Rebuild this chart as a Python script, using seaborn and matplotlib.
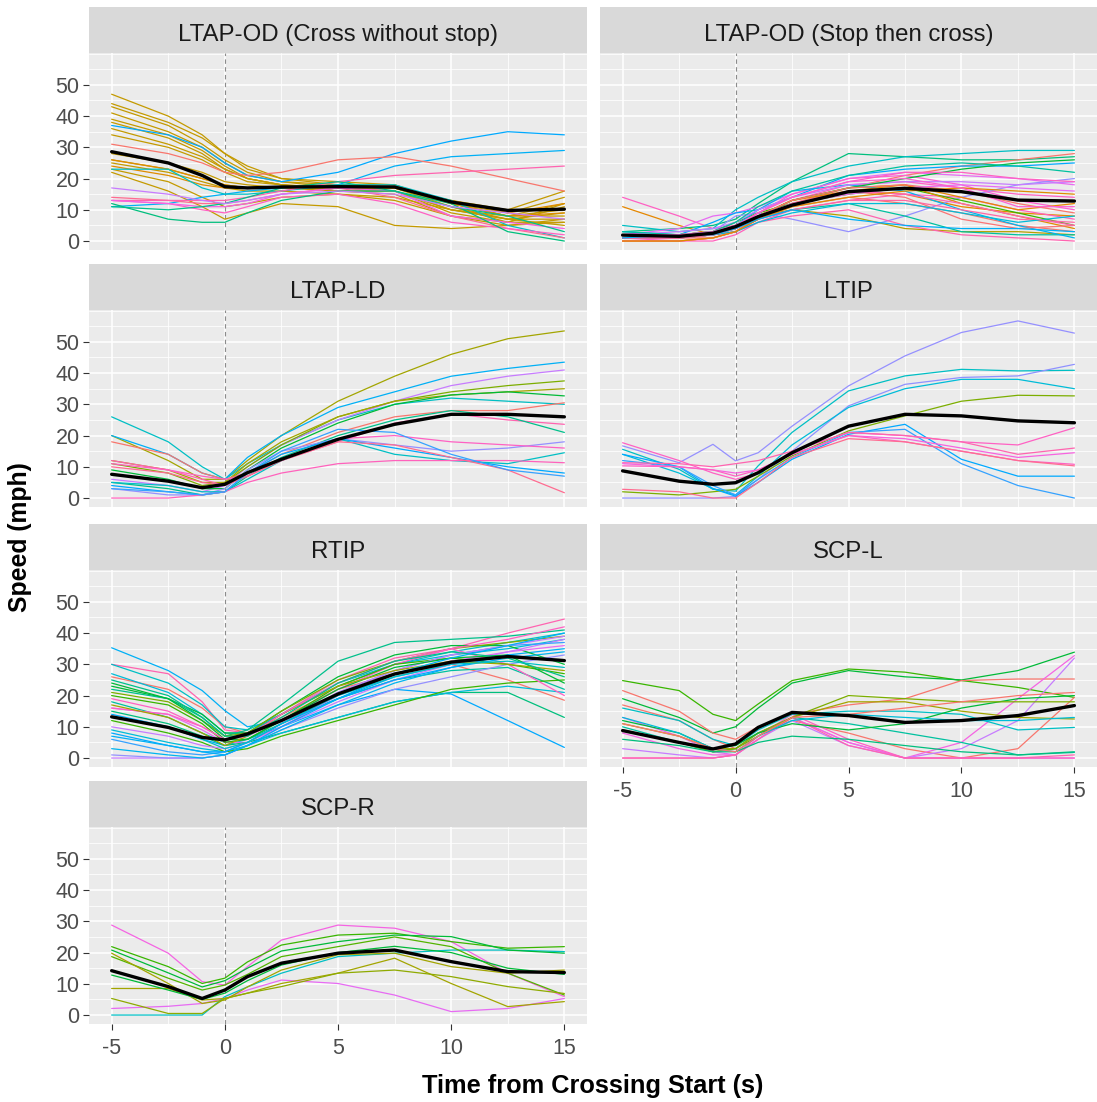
import numpy as np
import pandas as pd
import seaborn as sns
import matplotlib
matplotlib.use("Agg")
import matplotlib.pyplot as plt
from matplotlib.patches import Rectangle
from matplotlib.ticker import MultipleLocator

# ---------------------------------------------------------------------------
# Speed traces (mph) sampled at these times (s) relative to crossing start
# ---------------------------------------------------------------------------
time_pts = [-5, -2.5, -1, 0, 1, 2.5, 5, 7.5, 10, 12.5, 15]

scenarios = [
    "LTAP-OD (Cross without stop)",
    "LTAP-OD (Stop then cross)",
    "LTAP-LD",
    "LTIP",
    "RTIP",
    "SCP-L",
    "SCP-R",
]

# --- LTAP-OD (Cross without stop)
od_cross_speeds = [
    [47, 40, 34, 28, 23, 20, 18, 17, 13, 10, 16],
    [44, 38, 33, 28, 24, 20, 19, 18, 12, 8, 8],
    [43, 37, 31, 26, 22, 19, 18, 17, 12, 8, 10],
    [41, 35, 30, 25, 21, 19, 17, 17, 11, 7, 7],
    [39, 34, 29, 24, 20, 18, 17, 16, 10, 7, 5],
    [38, 33, 28, 23, 20, 18, 16, 16, 11, 6, 6],
    [36, 31, 27, 23, 20, 18, 17, 16, 9, 6, 12],
    [34, 30, 26, 22, 19, 18, 16, 15, 8, 6, 11],
    [28, 25, 22, 19, 18, 17, 17, 17, 12, 9, 14],
    [26, 23, 20, 18, 17, 17, 16, 16, 10, 8, 12],
    [25, 22, 19, 17, 16, 16, 15, 14, 10, 7, 9],
    [23, 19, 14, 11, 12, 14, 15, 13, 8, 5, 6],
    [22, 16, 11, 7, 9, 12, 11, 5, 4, 5, 7],
    [26, 23, 20, 18, 17, 17, 17, 17, 13, 9, 12],
    [24, 21, 18, 17, 17, 17, 18, 18, 12, 8, 9],
    [37, 34, 30, 25, 21, 19, 22, 28, 32, 35, 34],
    [11, 12, 14, 15, 16, 17, 18, 24, 27, 28, 29],
    [23, 23, 17, 15, 15, 16, 18, 18, 13, 5, 1],
    [31, 28, 25, 22, 21, 22, 26, 27, 24, 20, 16],
    [14, 13, 12, 12, 13, 15, 17, 14, 8, 4, 1],
    [13, 13, 13, 13, 14, 16, 19, 21, 22, 23, 24],
    [13, 12, 10, 9, 11, 14, 15, 12, 6, 4, 2],
    [13, 12, 11, 11, 12, 15, 17, 16, 8, 6, 4],
    [12, 7, 6, 6, 9, 13, 16, 16, 12, 3, 0],
    [11, 10, 11, 12, 14, 17, 19, 16, 11, 8, 3],
    [17, 15, 13, 12, 13, 15, 16, 15, 11, 9, 7],
]
od_cross_colors = (
    ["#C49A00"] * 13 + ["#DE8C00"] * 2
    + ["#00A9FF", "#00B0F6", "#00BFC4", "#F8766D", "#FF6C91",
       "#FF64B0", "#FF61C3", "#F564E3", "#00BF7D", "#00C08B", "#C77CFF"]
)
od_cross_mean = [28.6, 25, 21, 17.4, 17, 17.3, 17.4, 17.3, 12.5, 9.8, 10.2]

# --- LTAP-OD (Stop then cross)
od_stop_speeds = [
    [14, 8, 4, 5, 8, 13, 18, 19, 17, 15, 14],
    [11, 5, 2, 3, 7, 12, 16, 15, 11, 9, 8],
    [3, 4, 5, 7, 12, 19, 28, 27, 26, 26, 27],
    [5, 3, 4, 10, 14, 19, 24, 27, 28, 29, 29],
    [2, 4, 8, 9, 11, 15, 20, 22, 21, 20, 18],
    [0, 0, 1, 3, 7, 12, 17, 21, 24, 26, 28],
    [1, 2, 6, 9, 10, 14, 21, 23, 24, 24, 25],
    [2, 2, 3, 8, 9, 7, 3, 8, 14, 18, 20],
    [0, 0, 0, 2, 6, 10, 13, 15, 14, 10, 7],
    [2, 2, 3, 5, 8, 10, 8, 4, 3, 3, 2],
    [1, 1, 2, 4, 7, 10, 12, 8, 3, 2, 2],
    [1, 1, 2, 3, 6, 8, 10, 5, 2, 1, 0],
    [1, 2, 3, 6, 9, 12, 15, 17, 13, 9, 5],
    [2, 2, 3, 4, 8, 13, 17, 18, 12, 8, 4],
    [1, 1, 1, 3, 7, 11, 14, 12, 9, 5, 3],
    [0, 1, 2, 4, 9, 15, 20, 21, 18, 13, 10],
    [3, 2, 2, 5, 10, 16, 18, 16, 10, 5, 1],
    [2, 3, 4, 6, 10, 14, 18, 19, 19, 18, 19],
    [0, 0, 1, 3, 7, 12, 16, 14, 7, 4, 5],
    [1, 1, 2, 4, 8, 13, 17, 20, 23, 25, 26],
    [2, 1, 2, 4, 7, 10, 13, 13, 10, 7, 6],
    [1, 1, 2, 3, 6, 9, 12, 12, 9, 6, 8],
    [1, 1, 2, 4, 8, 13, 16, 18, 14, 10, 12],
    [1, 1, 2, 4, 9, 14, 19, 22, 22, 20, 19],
    [0, 0, 1, 3, 8, 13, 17, 18, 16, 12, 9],
    [2, 2, 3, 5, 8, 12, 15, 17, 18, 17, 16],
    [1, 1, 2, 4, 7, 12, 16, 15, 12, 8, 5],
    [3, 2, 3, 6, 11, 16, 21, 24, 25, 24, 22],
    [0, 0, 1, 3, 7, 11, 14, 16, 17, 16, 15],
    [1, 2, 2, 4, 7, 10, 7, 5, 4, 4, 3],
    [2, 2, 3, 5, 9, 14, 19, 20, 17, 11, 11],
]
od_stop_colors = [
    "#FF61C3", "#E58700", "#00BF7D", "#00BFC4", "#E76BF3", "#F8766D",
    "#00A9FF", "#9590FF", "#FF62BC", "#B79F00", "#00C19F", "#FF64B0",
    "#39B600", "#DE8C00", "#F8766D", "#FD61D1", "#00B4EF", "#C77CFF",
    "#FA7476", "#00BA38", "#FF67A4", "#00BCD8", "#E58700",
    "#FF61C3", "#F8766D", "#E76BF3", "#FF64B0", "#00C19F", "#DE8C00",
    "#00B0F6", "#FD61D1",
]
od_stop_mean = [1.9, 1.5, 2.5, 4.6, 7.8, 11.5, 15.8, 16.9, 15.8, 13.1, 12.8]

# --- LTAP-LD
ld_speeds = [
    [20, 12, 6, 6, 12, 20, 31, 39, 46, 51, 53.5],
    [26, 18, 10, 6, 11, 17, 25, 30, 32, 31, 30],
    [20, 14, 8, 6, 13, 20, 29, 34, 39, 41.5, 43.5],
    [6, 4, 2, 4, 10, 17, 25, 31, 36, 39, 41],
    [11, 8, 4, 5, 10, 17, 26, 31, 34, 36, 37.5],
    [12, 9, 5, 5, 11, 18, 26, 31, 33, 34, 35],
    [9, 6, 3, 3, 9, 16, 24, 30, 33, 34, 32.7],
    [18, 14, 8, 6, 8, 14, 21, 26, 28, 28, 30.5],
    [12, 9, 6, 4, 7, 12, 18, 24, 27, 25, 23.6],
    [5, 3, 1, 2, 7, 13, 20, 25, 28, 26, 21],
    [3, 1, 1, 3, 9, 15, 19, 17, 15, 16, 18],
    [4, 2, 1, 2, 8, 14, 19, 16, 13, 10, 8],
    [11, 9, 7, 6, 7, 12, 19, 20, 18, 17, 16],
    [5, 4, 2, 2, 6, 12, 19, 14, 12, 11, 14.5],
    [0, 0, 1, 2, 5, 8, 11, 12, 12, 12, 11.3],
    [10, 8, 5, 4, 7, 12, 18, 17, 13, 9, 1.7],
    [3, 2, 1, 2, 8, 15, 22, 21, 14, 9, 7],
]
ld_colors = [
    "#A3A500", "#00BFC4", "#00B0F6", "#C77CFF", "#7CAE00", "#A3A500",
    "#00BA38", "#F8766D", "#FF64B0", "#00C08B", "#9590FF", "#00A9FF",
    "#FF61C3", "#00BFC4", "#FF62BC", "#FF6C91", "#35A2FF",
]
ld_mean = [7.6, 5.4, 3.3, 4.4, 8.1, 12.4, 18.8, 23.6, 26.8, 26.8, 26]

# --- LTIP
ltip_speeds = [
    [16.7, 11.3, 17.2, 11.9, 14.5, 23, 35.9, 45.5, 53, 56.7, 52.8],
    [15.6, 9.2, 2.8, 2.2, 10.3, 21, 34.3, 39.1, 41.2, 40.7, 40.9],
    [0, 0, 0, 0.5, 6, 15, 29.5, 36.4, 38.6, 39.1, 42.8],
    [14, 8, 3, 1, 7, 17, 29, 35, 38, 38, 35],
    [2, 1, 2, 2.8, 7, 13.5, 21.5, 26.3, 31, 32.9, 32.7],
    [14, 10, 3, 0.6, 5, 12.4, 20.4, 23.6, 12.4, 7, 7],
    [12, 10, 4, 1, 6, 13, 21, 22, 11, 4, 0],
    [17.7, 12, 8, 6, 8, 15, 21, 20, 18, 17, 22.5],
    [11.3, 11, 10, 11, 12, 15, 21, 20, 18, 14, 16],
    [11, 10, 9, 8, 9, 14, 20, 19, 16, 13, 14.5],
    [10.3, 10, 9, 7, 9, 14, 20, 18, 15, 12, 10.8],
    [2.8, 2, 0, 0, 5, 13, 19, 18, 15, 12, 10.3],
]
ltip_colors = [
    "#9590FF", "#00BFC4", "#8F91FF", "#00BCD8", "#7CAE00", "#00A9FF",
    "#35A2FF", "#FF61C3", "#FF64B0", "#F763E0", "#FF61C3", "#FF6C91",
]
ltip_mean = [8.7, 5.4, 4.4, 4.9, 8.1, 14.5, 23, 26.8, 26.3, 24.7, 24.1]

# --- RTIP
rtip_speeds = [
    [35.3, 28, 21.6, 15.2, 10, 12, 19, 26, 30, 33, 35],
    [14, 10, 6, 4, 6, 10, 17, 22, 20.5, 12, 3.4],
    [30, 27, 18, 9, 8, 14, 25, 32, 35, 40, 44.5],
    [26, 22, 16, 10, 8, 13, 22, 27, 30, 25, 18.5],
    [30, 24, 17, 10, 9, 14, 23, 30, 34, 37, 40],
    [27, 21, 14, 8, 8, 14, 24, 30, 33, 35, 38],
    [23, 19, 14, 8, 8, 15, 26, 33, 36, 36, 30],
    [22, 19, 13, 7, 9, 17, 31, 37, 38, 39, 41],
    [21, 18, 12, 7, 8, 15, 25, 31, 35, 37, 39],
    [18, 13, 8, 5, 6, 11, 19, 25, 28, 29, 22],
    [16, 14, 9, 5, 5, 10, 20, 27, 31, 34, 36],
    [0, 0, 0, 1, 4, 10, 18, 25, 30, 34, 38],
    [1, 0, 0, 1, 4, 9, 16, 22, 26, 30, 33],
    [15, 11, 7, 4, 5, 8, 13, 18, 21, 21, 13],
    [9, 5, 3, 2, 4, 8, 13, 18, 21, 23, 21],
    [12, 8, 5, 2, 3, 7, 12, 17, 22, 24, 25],
    [16, 14, 10, 6, 7, 12, 22, 30, 35, 30, 20],
    [6, 2, 1, 2, 5, 11, 21, 28, 33, 36, 37],
    [20, 17, 11, 5, 6, 12, 23, 30, 32, 30, 27],
    [3, 1, 0, 1, 4, 9, 17, 24, 29, 32, 34],
    [10, 7, 4, 3, 5, 11, 21, 28, 33, 36, 39],
    [24, 19, 12, 6, 6, 12, 22, 29, 32, 33, 24],
    [8, 4, 2, 2, 5, 11, 19, 25, 29, 33, 31],
    [17, 13, 8, 4, 7, 14, 23, 28, 31, 30, 28],
    [19, 15, 10, 6, 7, 14, 24, 31, 35, 38, 42],
    [25, 20, 13, 7, 7, 13, 24, 31, 34, 32, 26],
    [7, 4, 2, 1, 4, 10, 19, 27, 32, 36, 40],
    [13, 10, 6, 3, 5, 11, 20, 26, 30, 31, 29],
]
rtip_colors = [
    "#00B0F6", "#00A9FF", "#FF64B0", "#F8766D", "#00BFC4", "#00BCD8",
    "#00BA38", "#00C08B", "#7CAE00", "#00C19F", "#E76BF3", "#C77CFF",
    "#9590FF", "#00BF7D", "#00BCD8", "#39B600", "#FF61C3", "#35A2FF",
    "#39B600", "#00B4EF", "#C77CFF", "#00BA38", "#00A9FF", "#A3A500",
    "#FF61C3", "#00C08B", "#00B0F6", "#00BFC4",
]
rtip_mean = [13.2, 9.8, 6.6, 5.8, 7.7, 12, 20.5, 26.9, 30.7, 32.5, 31.2]

# --- SCP-L
scpl_speeds = [
    [24.8, 21.6, 14, 12, 17.3, 24.8, 28.5, 27.5, 24.8, 22.6, 19.4],
    [19, 13, 8, 10, 16, 24, 28, 26, 25, 28, 33.9],
    [21.6, 15, 8, 6, 10, 14, 17, 19, 24.8, 25.3, 25.3],
    [17, 12, 6, 3, 8, 12, 8, 3, 0, 3, 19.4],
    [13, 7, 2, 1, 6, 13, 5, 0, 0, 0, 0],
    [8, 3, 1, 1, 6, 13, 5, 0, 5, 19, 32.8],
    [3, 1, 0, 1, 6, 12, 4, 0, 3, 12, 32],
    [0, 0, 0, 1, 7, 14, 6, 0, 0, 0, 0],
    [0, 0, 0, 1, 6, 13, 4, 0, 0, 0, 1],
    [16, 12, 6, 4, 9, 14, 15, 15, 14, 9, 9.8],
    [10, 5, 2, 3, 8, 13, 11, 8, 5, 1, 1.8],
    [11, 7, 3, 3, 8, 13, 18, 18, 15, 13, 12.5],
    [12, 8, 3, 4, 8, 11, 9, 11, 16, 19, 20],
    [9, 5, 2, 3, 7, 13, 20, 19, 18, 18, 18],
    [13, 8, 3, 2, 7, 12, 14, 13, 12, 12, 13],
    [6, 4, 2, 2, 5, 7, 6, 4, 2, 1, 2],
    [11, 7, 3, 2, 7, 13, 14, 16, 18, 20, 21],
]
scpl_colors = [
    "#39B600", "#00BA38", "#F8766D", "#F8766D", "#E76BF3", "#F564E3",
    "#C77CFF", "#FF61C3", "#FF64B0", "#00BFC4", "#00C19F", "#A3A500",
    "#00BA38", "#7CAE00", "#00BCD8", "#00BF7D", "#F8766D",
]
scpl_mean = [8.8, 5, 2.9, 4.5, 9.8, 14.6, 13.6, 11.4, 12, 13.6, 16.8]

# --- SCP-R
scpr_speeds = [
    [28.8, 19.8, 10.7, 9.6, 15.5, 24, 28.8, 27.8, 23.5, 13.4, 5.9],
    [2.1, 2.8, 3.7, 5.3, 8, 11.2, 10.1, 6.4, 1.1, 2.1, 5.3],
    [0, 0, 0, 5.9, 9, 13.4, 18.7, 19.8, 20.8, 20.8, 20.3],
    [21.9, 15.5, 10.1, 11.8, 17, 22.4, 25.6, 26.2, 23.5, 21.4, 21.9],
    [20.8, 13.5, 9, 11, 15, 20.5, 23.5, 25.6, 25.1, 20.8, 19.8],
    [18.7, 11.8, 8, 9.6, 13, 18.7, 21.9, 25, 21.9, 13.4, 6.4],
    [19.8, 10.1, 3.7, 4.8, 9, 14.4, 19.3, 19.8, 15.5, 13.4, 14.4],
    [8.5, 8.5, 4.8, 5.3, 7, 10.1, 13.4, 18.2, 10.1, 2.7, 4.3],
    [5.3, 0.5, 0.5, 5.3, 7, 9.1, 13.4, 14.4, 12.3, 9.1, 6.9],
    [12.8, 8, 5, 7, 11, 16, 20, 22, 20, 15, 13],
]
scpr_colors = [
    "#F564E3", "#E76BF3", "#00BFC4", "#39B600", "#00BA38", "#53B400",
    "#A3A500", "#A3A500", "#8FAA00", "#00BA38",
]
scpr_mean = [14.2, 9.1, 5.3, 8, 12.3, 16.6, 19.8, 20.8, 17.1, 13.9, 13.6]

panel_speeds = [od_cross_speeds, od_stop_speeds, ld_speeds, ltip_speeds,
                rtip_speeds, scpl_speeds, scpr_speeds]
panel_colors = [od_cross_colors, od_stop_colors, ld_colors, ltip_colors,
                rtip_colors, scpl_colors, scpr_colors]
panel_means = [od_cross_mean, od_stop_mean, ld_mean, ltip_mean,
               rtip_mean, scpl_mean, scpr_mean]

# ---------------------------------------------------------------------------
# Long-format tables
# ---------------------------------------------------------------------------
rows, mean_rows, palette = [], [], {}
for name, speeds, cols, mean in zip(scenarios, panel_speeds, panel_colors, panel_means):
    for i, (trace, col) in enumerate(zip(speeds, cols)):
        tid = f"{name}#{i:02d}"
        palette[tid] = col
        for t, v in zip(time_pts, trace):
            rows.append((name, tid, t, v))
    for t, v in zip(time_pts, mean):
        mean_rows.append((name, t, v))
traces = pd.DataFrame(rows, columns=["scenario", "trace", "time", "speed"])
means = pd.DataFrame(mean_rows, columns=["scenario", "time", "speed"])

# ---------------------------------------------------------------------------
# Styling (ggplot-like grey panels)
# ---------------------------------------------------------------------------
sns.set_theme(style="darkgrid")
plt.rcParams["font.family"] = ["Liberation Sans", "DejaVu Sans"]
plt.rcParams["axes.facecolor"] = "#EBEBEB"
plt.rcParams["figure.facecolor"] = "white"
plt.rcParams["axes.unicode_minus"] = False

W, H = 1097, 1102
g = sns.FacetGrid(traces, col="scenario", col_wrap=2, col_order=scenarios,
                  sharex=True, sharey=True, height=3, aspect=1.6, despine=False)
fig = g.figure
fig.set_size_inches(W / 100, H / 100)

for name in scenarios:
    ax = g.axes_dict[name]
    sub = traces[traces["scenario"] == name]
    sns.lineplot(data=sub, x="time", y="speed", hue="trace", palette=palette,
                 estimator=None, linewidth=0.9, legend=False, ax=ax)
    sns.lineplot(data=means[means["scenario"] == name], x="time", y="speed",
                 color="black", linewidth=2.4, estimator=None, ax=ax)
    ax.axvline(0, color="#8C8C8C", linestyle=(0, (4, 3)), linewidth=0.8, zorder=1.5)

# ---------------------------------------------------------------------------
# Layout in pixel units
# ---------------------------------------------------------------------------
col_left = [89, 600]
col_width = [498, 497]
row_top = [53, 310, 570, 827]
panel_h = 197
strip_h = 46
bottom_panels = {"SCP-L", "SCP-R"}
left_panels = {scenarios[0], scenarios[2], scenarios[4], scenarios[6]}

for i, name in enumerate(scenarios):
    ax = g.axes_dict[name]
    r, c = divmod(i, 2)
    ax.set_position([col_left[c] / W, (H - row_top[r] - panel_h) / H,
                     col_width[c] / W, panel_h / H])
    ax.set_xlim(-6, 16)
    ax.set_ylim(-2.87, 60.2)
    ax.set_xticks([-5, 0, 5, 10, 15])
    ax.set_yticks([0, 10, 20, 30, 40, 50])
    ax.xaxis.set_minor_locator(MultipleLocator(2.5))
    ax.yaxis.set_minor_locator(MultipleLocator(5))
    ax.grid(which="major", color="white", linewidth=1.1)
    ax.grid(which="minor", color="white", linewidth=0.55)
    ax.set_axisbelow(True)
    for s in ax.spines.values():
        s.set_visible(False)
    ax.set_title("")
    ax.set_xlabel("")
    ax.set_ylabel("")
    is_bottom = name in bottom_panels
    is_left = name in left_panels
    ax.tick_params(which="minor", length=0)
    ax.tick_params(axis="x", which="major", bottom=is_bottom, labelbottom=is_bottom,
                   length=4.3, width=0.8, color="#333333", labelcolor="#4D4D4D",
                   labelsize=15.5, pad=5.5)
    ax.tick_params(axis="y", which="major", left=is_left, labelleft=is_left,
                   length=4.3, width=0.8, color="#333333", labelcolor="#4D4D4D",
                   labelsize=15.5, pad=2.5)
    # facet strip
    sh = strip_h / panel_h
    ax.add_patch(Rectangle((0, 1), 1, sh, transform=ax.transAxes,
                           facecolor="#D9D9D9", edgecolor="none", clip_on=False))
    ax.text(0.5, 1 + sh * 0.4, name, transform=ax.transAxes, ha="center",
            va="center", fontsize=17.3, color="#1A1A1A")

fig.text(20 / W, 1 - 537 / H, "Speed (mph)", rotation=90, ha="center",
         va="center", fontsize=17.8, fontweight="bold", color="black")
fig.text(593 / W, 1 - 1086 / H, "Time from Crossing Start (s)", ha="center",
         va="center", fontsize=18.3, fontweight="bold", color="black")

fig.savefig("out.png", dpi=100)
